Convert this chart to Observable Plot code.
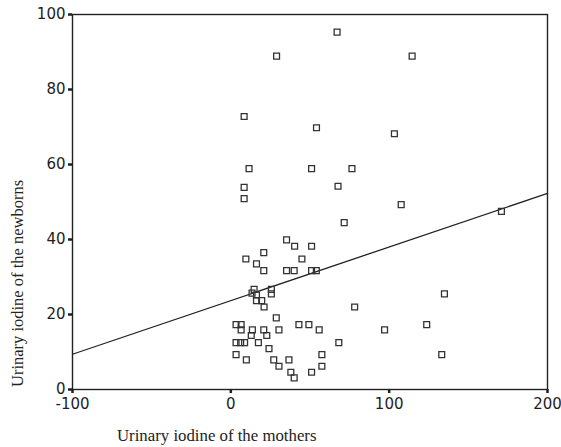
<!DOCTYPE html>
<html>
<head>
<meta charset="utf-8">
<script src="https://cdn.jsdelivr.net/npm/d3@7"></script>
<script src="https://cdn.jsdelivr.net/npm/@observablehq/plot@0.6"></script>
<style>
  html, body { margin: 0; padding: 0; background: #fff; }
  #chart { width: 561px; height: 447px; }
</style>
</head>
<body>
<div id="chart"></div>
<script>
const xTicks = [-100, 0, 100, 200];
const yTicks = [0, 20, 40, 60, 80, 100];
const xLabel = "Urinary iodine of the mothers";
const yLabel = "Urinary iodine of the newborns";

const motherIodine = [67.1, 28.9, 114.5, 8.4, 54.1, 103.3, 11.5, 51.0, 76.5, 8.4, 67.7, 8.4, 107.6, 71.6, 170.9, 35.2, 40.3, 51.0, 20.8, 9.5, 44.9, 16.2, 20.8, 35.2, 40.0, 51.0, 54.0, 14.7, 25.6, 13.4, 16.2, 25.6, 16.2, 19.5, 21.0, 78.2, 28.7, 3.3, 6.5, 6.5, 13.6, 20.8, 30.4, 43.0, 49.3, 55.8, 97.1, 12.9, 22.7, 3.3, 6.2, 8.7, 17.4, 68.2, 24.1, 3.3, 9.8, 27.1, 36.7, 57.5, 30.4, 57.5, 37.9, 40.0, 51.0, 134.9, 123.7, 133.2];
const newbornIodine = [95.3, 88.9, 88.9, 72.8, 69.8, 68.2, 58.9, 58.9, 58.9, 53.9, 54.2, 50.9, 49.3, 44.5, 47.5, 39.9, 38.2, 38.2, 36.5, 34.8, 34.8, 33.5, 31.7, 31.7, 31.7, 31.7, 31.7, 26.7, 26.7, 25.7, 25.2, 25.5, 23.7, 23.7, 22.0, 22.0, 19.1, 17.3, 17.3, 15.9, 15.9, 15.9, 15.9, 17.3, 17.3, 15.9, 15.9, 14.4, 14.4, 12.5, 12.5, 12.5, 12.5, 12.5, 10.9, 9.3, 7.9, 7.9, 7.9, 9.3, 6.2, 6.2, 4.6, 3.1, 4.6, 25.5, 17.3, 9.3];

const fitX = [-100, 200];
const fitY = [9.4, 52.3];

const points = motherIodine.map((x, i) => ({x, y: newbornIodine[i]}));
const fit = fitX.map((x, i) => ({x, y: fitY[i]}));

const chart = Plot.plot({
  width: 561,
  height: 447,
  marginLeft: 72,
  marginRight: 14,
  marginTop: 14,
  marginBottom: 58,
  x: {domain: [-100, 200]},
  y: {domain: [0, 100]},
  style: {fontFamily: "DejaVu Sans", fontSize: "15px", background: "white", color: "#1e1e1e"},
  marks: [
    Plot.frame({stroke: "#222", strokeWidth: 1.4}),
    Plot.axisX({ticks: xTicks, tickSize: 4, tickPadding: 5, label: null, strokeWidth: 2.5, tickFormat: d => d < 0 ? "-" + Math.abs(d) : String(d)}),
    Plot.axisY({ticks: yTicks, tickSize: 4, tickPadding: 3, label: null, strokeWidth: 2.5}),
    Plot.line(fit, {x: "x", y: "y", stroke: "#222", strokeWidth: 1.3}),
    Plot.dot(points, {x: "x", y: "y", symbol: "square", r: 3.3, stroke: "#333", strokeWidth: 1.3, fill: "none"})
  ]
});

document.getElementById("chart").appendChild(chart);

const svg = d3.select(chart);
svg.append("text")
  .attr("x", 117)
  .attr("y", 441)
  .attr("text-anchor", "start")
  .attr("font-family", "Liberation Serif")
  .attr("font-size", 16.8)
  .attr("fill", "#222")
  .text(xLabel);
svg.append("text")
  .attr("transform", "translate(23,387) rotate(-90)")
  .attr("text-anchor", "start")
  .attr("font-family", "Liberation Serif")
  .attr("font-size", 16.5)
  .attr("fill", "#222")
  .text(yLabel);
</script>
</body>
</html>
